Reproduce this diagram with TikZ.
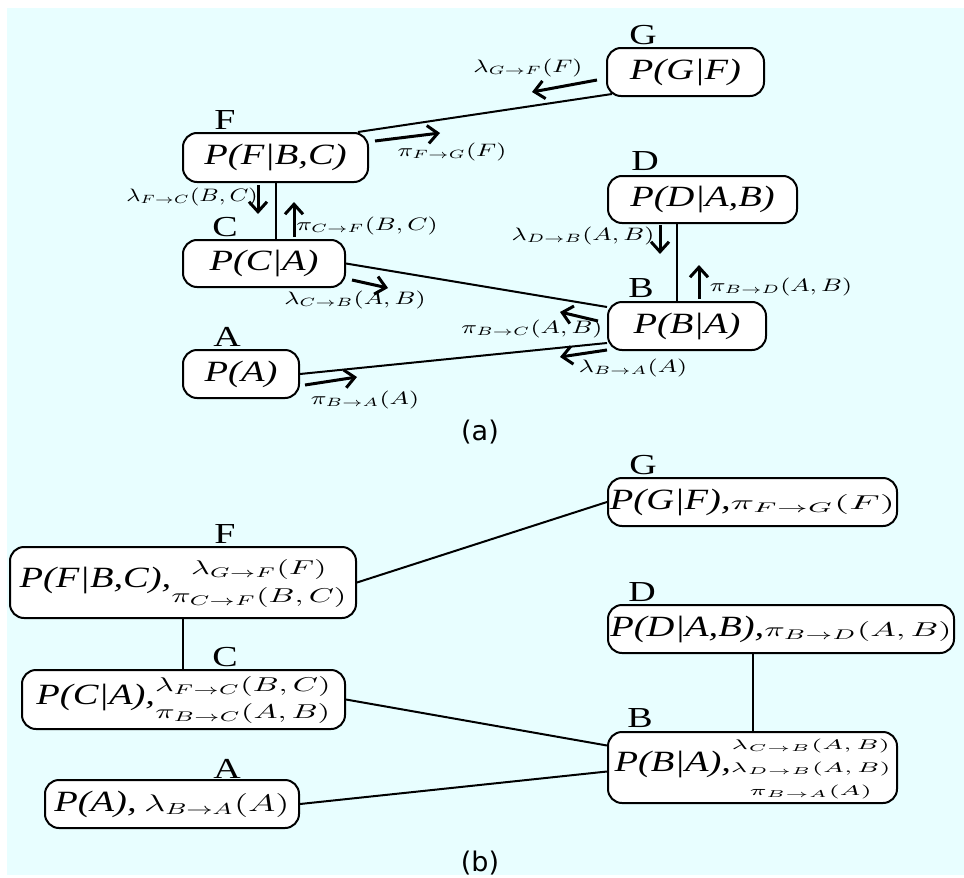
\documentclass[tikz,border=0pt]{standalone}
\usepackage{fontspec}
\usepackage{graphicx}
\newfontfamily\tnr{Liberation Serif}
\newfontfamily\dvs{DejaVu Sans}
\usetikzlibrary{positioning}
\usetikzlibrary{arrows.meta}
\usetikzlibrary{calc}
\definecolor{bgcyan}{RGB}{232,254,255}
\newcommand\wx[2][1.31]{\scalebox{#1}[1]{#2}}

\begin{document}
\begin{tikzpicture}[x=0.5pt,y=-0.5pt,
                fac/.style={draw,line width=1pt,rounded corners=7pt,fill=white,inner sep=0pt,
                  font=\tnr\itshape\fontsize{14.7}{17}\selectfont},
                tag/.style={inner sep=0pt,font=\tnr\fontsize{14.5}{14.5}\selectfont},
                msg/.style={inner sep=0pt,font=\fontsize{9}{10}\selectfont},
                figlabel/.style={inner sep=0pt,font=\dvs\fontsize{13.5}{14}\selectfont},
                link/.style={line width=1pt},
                pass/.style={line width=1.5pt,-{Straight Barb[length=5pt,width=9pt]}}]
  \useasboundingbox (0,0) rectangle (964,878);
  \fill[bgcyan] (7,8) rectangle (964,875);

  % (a) cliques with messages
  \node[fac,minimum width=78.5pt,minimum height=24pt] (Ga) at (685.5,72) {\wx{P(G|F)}};
  \node[fac,minimum width=92.5pt,minimum height=24.5pt] (Fa) at (275.5,157.5) {\wx{P(F|B,C)}};
  \node[fac,minimum width=81pt,minimum height=23.5pt] (Ca) at (264,263.5) {\wx{P(C|A)}};
  \node[fac,minimum width=58pt,minimum height=24pt] (Aa) at (241,374) {\wx{P(A)}};
  \node[fac,minimum width=94.5pt,minimum height=23.5pt] (Da) at (702.5,199.5) {\wx{P(D|A,B)}};
  \node[fac,minimum width=79pt,minimum height=24pt] (Ba) at (687,326) {\wx{P(B|A)}};

  \node[tag] (tGa) at (643,35) {\wx{G}};
  \node[tag] (tFa) at (225,120) {\wx{F}};
  \node[tag] (tCa) at (225,227) {\wx{C}};
  \node[tag] (tAa) at (227,337) {\wx{A}};
  \node[tag] (tDa) at (645,161) {\wx{D}};
  \node[tag] (tBa) at (641,288) {\wx{B}};

  \draw[link] ($(Fa.north east)+(-11,0)$) -- ($(Ga.south west)+(6,-3)$);
  \draw[link] (Fa.south) -- (Fa.south |- Ca.north);
  \draw[link] (Ca.east) -- ($(Ba.north west)+(0,6)$);
  \draw[link] (Aa.east) -- ($(Ba.south west)+(0,-8)$);
  \draw[link] ($(Ba.north)+(-10,0)$) -- ($(Da.south)+(-25.5,0)$);

  \coordinate (gf1) at (597,80);  \coordinate (gf2) at (532,92);
  \coordinate (fg1) at (375,141); \coordinate (fg2) at (440,133);
  \coordinate (fc1) at (258,185); \coordinate (fc2) at (258,214);
  \coordinate (cf1) at (294,237); \coordinate (cf2) at (294,202);
  \coordinate (cb1) at (352,280); \coordinate (cb2) at (388,288);
  \coordinate (bc1) at (598,321); \coordinate (bc2) at (560,312);
  \coordinate (ba1) at (607,350); \coordinate (ba2) at (560,357);
  \coordinate (ab1) at (305,385); \coordinate (ab2) at (357,377);
  \coordinate (db1) at (660,225); \coordinate (db2) at (660,254);
  \coordinate (bd1) at (699,299); \coordinate (bd2) at (699,265);

  \draw[pass] (gf1) -- (gf2);
  \draw[pass] (fg1) -- (fg2);
  \draw[pass] (fc1) -- (fc2);
  \draw[pass] (cf1) -- (cf2);
  \draw[pass] (cb1) -- (cb2);
  \draw[pass] (bc1) -- (bc2);
  \draw[pass] (ba1) -- (ba2);
  \draw[pass] (ab1) -- (ab2);
  \draw[pass] (db1) -- (db2);
  \draw[pass] (bd1) -- (bd2);

  \node[msg] (mgf) at (528,68) {\wx[1.4]{$\lambda_{G\to F}(F)$}};
  \node[msg] (mfg) at (452,152) {\wx[1.4]{$\pi_{F\to G}(F)$}};
  \node[msg] (mfc) at (192,197) {\wx[1.3]{$\lambda_{F\to C}(B,C)$}};
  \node[msg] (mcf) at (367,226) {\wx[1.4]{$\pi_{C\to F}(B,C)$}};
  \node[msg] (mcb) at (355,300) {\wx[1.4]{$\lambda_{C\to B}(A,B)$}};
  \node[msg] (mbc) at (532,329) {\wx[1.4]{$\pi_{B\to C}(A,B)$}};
  \node[msg] (mab) at (365,400) {\wx[1.4]{$\pi_{B\to A}(A)$}};
  \node[msg] (mba) at (633,368) {\wx[1.4]{$\lambda_{B\to A}(A)$}};
  \node[msg] (mdb) at (583,236) {\wx[1.4]{$\lambda_{D\to B}(A,B)$}};
  \node[msg] (mbd) at (781,287) {\wx[1.4]{$\pi_{B\to D}(A,B)$}};

  \node[figlabel] (capa) at (480,432) {(a)};

  % (b) cliques after the messages are absorbed
  \node[fac,minimum width=144.5pt,minimum height=24pt] (Gb) at (752.5,502)
    {\wx{P(G|F),}\wx[1.95]{\fontsize{10}{12}\selectfont$\pi_{F\to G}(F)$}};
  \node[fac,minimum width=173pt,minimum height=35.5pt] (Fb) at (183,582.5)
    {\wx{P(F|B,C),}\wx[1.6]{\fontsize{10}{14}\selectfont
      \begin{tabular}{@{}c@{}}$\lambda_{G\to F}(F)$\\$\pi_{C\to F}(B,C)$\end{tabular}}};
  \node[fac,minimum width=161.5pt,minimum height=29.5pt] (Cb) at (183.5,699.5)
    {\wx{P(C|A),}\wx[1.6]{\fontsize{10}{13.5}\selectfont
      \begin{tabular}{@{}c@{}}$\lambda_{F\to C}(B,C)$\\$\pi_{B\to C}(A,B)$\end{tabular}}};
  \node[fac,minimum width=127pt,minimum height=24pt] (Ab) at (172,804)
    {\wx{P(A),} \wx[1.55]{\fontsize{12}{14}\selectfont$\lambda_{B\to A}(A)$}};
  \node[fac,minimum width=173pt,minimum height=24pt] (Db) at (781,629)
    {\wx{P(D|A,B),}\wx[1.7]{\fontsize{10}{12}\selectfont$\pi_{B\to D}(A,B)$}};
  \node[fac,minimum width=144.5pt,minimum height=35.5pt] (Bb) at (752.5,767.5)
    {\wx{P(B|A),}\wx[1.75]{\fontsize{7}{11.5}\selectfont
      \begin{tabular}{@{}c@{}}$\lambda_{C\to B}(A,B)$\\$\lambda_{D\to B}(A,B)$\\$\pi_{B\to A}(A)$\end{tabular}}};

  \node[tag] (tGb) at (643,465) {\wx{G}};
  \node[tag] (tFb) at (225,534) {\wx{F}};
  \node[tag] (tCb) at (225,657) {\wx{C}};
  \node[tag] (tAb) at (227,769) {\wx{A}};
  \node[tag] (tDb) at (642,592) {\wx{D}};
  \node[tag] (tBb) at (640,718) {\wx{B}};

  \draw[link] (Fb.east) -- (Gb.west);
  \draw[link] (Fb.south) -- (Fb.south |- Cb.north);
  \draw[link] (Cb.east) -- ($(Bb.west)+(0,-22)$);
  \draw[link] (Ab.east) -- ($(Bb.west)+(0,4)$);
  \draw[link] (Bb.north) -- (Bb.north |- Db.south);

  \node[figlabel] (capb) at (480,863) {(b)};
\end{tikzpicture}
\end{document}
